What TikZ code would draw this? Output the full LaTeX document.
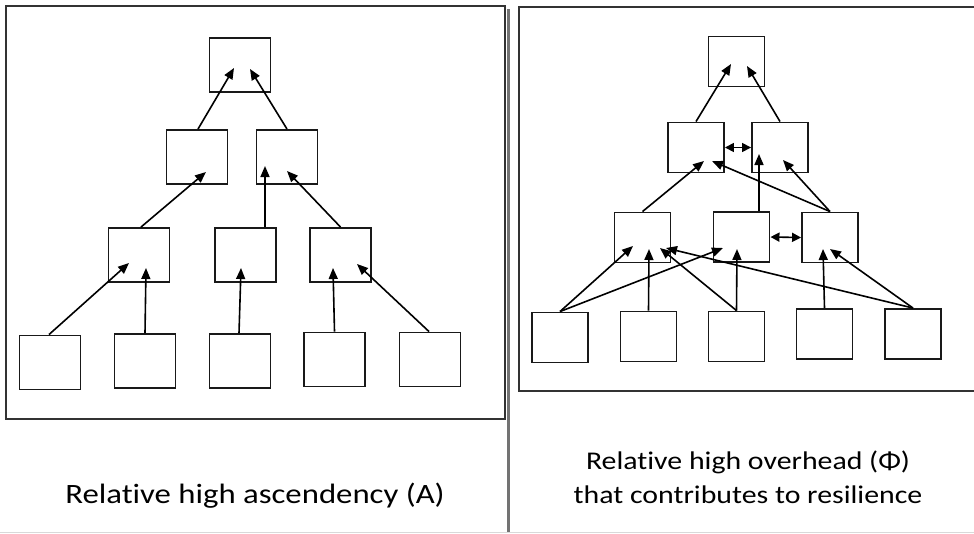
\documentclass[tikz,border=0pt]{standalone}
\usepackage{fontspec}
\setmainfont{Carlito}[Ligatures=NoCommon]
\usetikzlibrary{arrows.meta}
\begin{document}
\begin{tikzpicture}[x=1pt,y=-1pt,
  box/.style={draw=black!90,line width=1.9pt,minimum width=61pt,minimum height=54pt,inner sep=0pt},
  rbox/.style={box,minimum width=56pt,minimum height=50pt},
  arr/.style={line width=1.6pt,-{Triangle[length=11pt,width=9pt]}},
  darr/.style={line width=1.6pt,{Triangle[length=9pt,width=9pt]}-{Triangle[length=9pt,width=9pt]}},
  frame/.style={draw=black!80,line width=1.7pt},
  lbl/.style={anchor=base,inner sep=0pt}]
\useasboundingbox (0,0) rectangle (974,533);
% separator shadow and bottom line
\draw[black!55,line width=3pt] (508.5,9) -- (508.5,533);
\draw[black!15,line width=1pt] (0,532) -- (974,532);
% frames
\draw[frame] (6,6) rectangle (505,419);
\draw[frame] (974,7) -- (519,7) -- (519,391) -- (974,391);

% ---------- left panel ----------
\node[box] (LT) at (240,65) {};
\node[box] (LA) at (197,157) {};
\node[box] (LB) at (287,157) {};
\node[box] (L31) at (139,255) {};
\node[box] (L32) at (245.5,255) {};
\node[box] (L33) at (340.5,255) {};
\node[box] (L41) at (50,362.5) {};
\node[box] (L42) at (145,361) {};
\node[box] (L43) at (240,361) {};
\node[box] (L44) at (334.5,359.5) {};
\node[box] (L45) at (430,359.5) {};

\coordinate (tLT1) at (234,68);
\coordinate (tLT2) at (250,69);
\coordinate (tLA) at (206,172);
\coordinate (tLB1) at (265,166);
\coordinate (tLB2) at (287,171);
\coordinate (tL31a) at (129,263);
\coordinate (tL31b) at (146,268);
\coordinate (tL32) at (241,268);
\coordinate (tL33a) at (333,268);
\coordinate (tL33b) at (357,264);

\draw[arr] ([xshift=1pt]LA.north) -- (tLT1);
\draw[arr] (LB.north) -- (tLT2);
\draw[arr] ([xshift=2pt]L31.north) -- (tLA);
\draw[arr] ([xshift=19.5pt]L32.north) -- (tLB1);
\draw[arr] (L33.north) -- (tLB2);
\draw[arr] ([xshift=-1pt]L41.north) -- (tL31a);
\draw[arr] (L42.north) -- (tL31b);
\draw[arr] ([xshift=-1pt]L43.north) -- (tL32);
\draw[arr] (L44.north) -- (tL33a);
\draw[arr] ([xshift=-1pt]L45.north) -- (tL33b);

% ---------- right panel ----------
\node[rbox] (RT) at (736.5,61.5) {};
\node[rbox] (RA) at (696,147.5) {};
\node[rbox] (RB) at (780,147.5) {};
\node[rbox] (R31) at (642.5,237.5) {};
\node[rbox] (R32) at (741.5,237) {};
\node[rbox] (R33) at (830,237.5) {};
\node[rbox] (R41) at (560,337.5) {};
\node[rbox] (R42) at (648.5,336.5) {};
\node[rbox] (R43) at (736.5,336.5) {};
\node[rbox] (R44) at (824.5,334) {};
\node[rbox] (R45) at (913,334) {};

\coordinate (tRT1) at (731,64);
\coordinate (tRT2) at (747,66);
\coordinate (tRA1) at (704,161);
\coordinate (tRA2) at (712,161);
\coordinate (tRB1) at (759,154);
\coordinate (tRB2) at (783,160);
\coordinate (tR31a) at (633,246);
\coordinate (tR31b) at (649,249);
\coordinate (tR31c) at (660,248);
\coordinate (tR31d) at (666,248);
\coordinate (tR32a) at (723,248);
\coordinate (tR32b) at (737,249);
\coordinate (tR33a) at (823,249);
\coordinate (tR33b) at (830,249);

\draw[arr] (RA.north) -- (tRT1);
\draw[arr] (RB.north) -- (tRT2);
\draw[darr] (RA.east) -- (RB.west);
\draw[arr] (R31.north) -- (tRA1);
\draw[arr] ([xshift=17.5pt]R32.north) -- (tRB1);
\draw[arr] (R33.north) -- (tRB2);
\draw[arr] (R33.north) -- (tRA2);
\draw[darr] (R32.east) -- (R33.west);
\draw[arr] (R41.north) -- (tR31a);
\draw[arr] (R41.north) -- (tR32a);
\draw[arr] (R42.north) -- (tR31b);
\draw[arr] (R43.north) -- (tR31c);
\draw[arr] (R43.north) -- (tR32b);
\draw[arr] (R44.north) -- (tR33a);
\draw[arr] (R45.north) -- (tR33b);
\draw[arr] (R45.north) -- (tR31d);

% ---------- captions ----------
\node[lbl,font=\fontsize{28}{34}\selectfont] (capL) at (255,503) {\scalebox{1.17}[1]{Relative high ascendency (A)}};
\node[lbl,font=\fontsize{25.5}{31}\selectfont] (capR1) at (748,469) {\scalebox{1.17}[1]{Relative high overhead (Φ)}};
\node[lbl,font=\fontsize{25.5}{31}\selectfont] (capR2) at (748,503) {\scalebox{1.17}[1]{that contributes to resilience}};
\end{tikzpicture}
\end{document}
